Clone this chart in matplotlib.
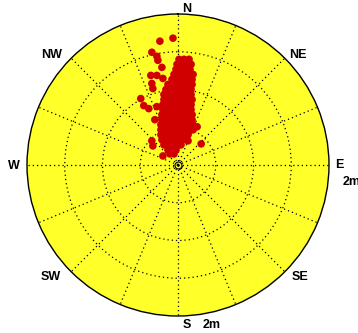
import numpy as np
import matplotlib.pyplot as plt

# positions in metres (east, north) from the antenna
outlier_e = [-0.36, -0.10, -0.52, -0.42, -0.40, -0.32, -0.54, -0.42, -0.52, -0.50,
             -0.74, -0.68, -0.58, -0.42, -0.46, -0.52, -0.50, 0.20, 0.46, -0.30,
             -0.30, 0.38]
outlier_n = [2.46, 2.52, 2.24, 2.16, 2.08, 1.94, 1.78, 1.78, 1.62, 1.52,
             1.32, 1.18, 1.12, 1.16, 0.90, 0.48, 0.38, 0.48, 0.42, 0.18,
             1.72, 0.76]

# dense core, one row of eastings per northing
core_n = [2.10, 2.00, 1.90, 1.80, 1.70, 1.60, 1.50, 1.40, 1.30, 1.20,
          1.10, 1.00, 0.90, 0.80, 0.70, 0.60, 0.50, 0.40, 0.30, 0.22]
core_e = [
    [0.02, 0.12, 0.22],
    [-0.02, 0.08, 0.18, 0.26],
    [-0.04, 0.06, 0.16, 0.24],
    [-0.08, 0.02, 0.12, 0.22, 0.30],
    [-0.12, -0.02, 0.08, 0.18, 0.28],
    [-0.20, -0.10, 0.00, 0.10, 0.20, 0.28],
    [-0.24, -0.14, -0.04, 0.06, 0.16, 0.26],
    [-0.28, -0.18, -0.08, 0.02, 0.12, 0.22, 0.26],
    [-0.28, -0.18, -0.08, 0.02, 0.12, 0.22, 0.28],
    [-0.30, -0.20, -0.10, 0.00, 0.10, 0.20, 0.26],
    [-0.30, -0.20, -0.10, 0.00, 0.10, 0.20, 0.26],
    [-0.32, -0.22, -0.12, -0.02, 0.08, 0.18, 0.28],
    [-0.32, -0.22, -0.12, -0.02, 0.08, 0.18, 0.28],
    [-0.34, -0.24, -0.14, -0.04, 0.06, 0.16, 0.26, 0.30],
    [-0.34, -0.24, -0.14, -0.04, 0.06, 0.16, 0.26, 0.30],
    [-0.34, -0.24, -0.14, -0.04, 0.06, 0.16, 0.20],
    [-0.32, -0.22, -0.12, -0.02, 0.08, 0.16],
    [-0.28, -0.18, -0.08, 0.02, 0.06],
    [-0.20, -0.12, -0.04],
    [-0.16, -0.08],
]

rmax = 3.0
rings = [0.75, 1.5, 2.25]

east = list(outlier_e)
north = list(outlier_n)
for n, row in zip(core_n, core_e):
    for e in row:
        east.append(e)
        north.append(n)
east = np.array(east)
north = np.array(north)
theta = np.arctan2(east, north)
r = np.hypot(east, north)

W, H = 358, 333
fig = plt.figure(figsize=(W / 100, H / 100), dpi=100)
cx, cy, R = 178, 165, 151
ax = fig.add_axes([(cx - R) / W, (H - cy - R) / H, 2 * R / W, 2 * R / H], projection='polar')
ax.set_theta_zero_location('N')
ax.set_theta_direction(-1)
ax.set_facecolor('#ffff2a')
ax.set_ylim(0, rmax)
ax.set_rgrids(rings, labels=[])
ax.set_thetagrids(np.arange(0, 360, 22.5), labels=[])
ax.grid(True, color='black', linestyle=(0, (1, 2.4)), linewidth=0.9)
ax.spines['polar'].set_color('black')
ax.spines['polar'].set_linewidth(1.0)

ax.scatter(theta, r, s=30, color='#d00000', edgecolors='none', zorder=3)
ax.plot([0], [0], 'o', mfc='none', mec='black', ms=5, mew=0.8, zorder=4)

# compass labels (pixel positions)
labels = [("N", 187, 8.5), ("NE", 298, 54.5), ("E", 339, 165), ("SE", 300, 277),
          ("S", 187, 325), ("SW", 51, 277), ("W", 14, 166), ("NW", 51.5, 54.5)]
for txt, px, py in labels:
    fig.text(px / W, 1 - py / H, txt, ha='center', va='center',
             fontsize=9, fontweight='bold', family='Liberation Sans')
fig.text(343 / W, 1 - 182 / H, "2m", ha='left', va='center',
         fontsize=9, fontweight='bold', family='Liberation Sans')
fig.text(203 / W, 1 - 325 / H, "2m", ha='left', va='center',
         fontsize=9, fontweight='bold', family='Liberation Sans')

fig.savefig('out.png', dpi=100)
